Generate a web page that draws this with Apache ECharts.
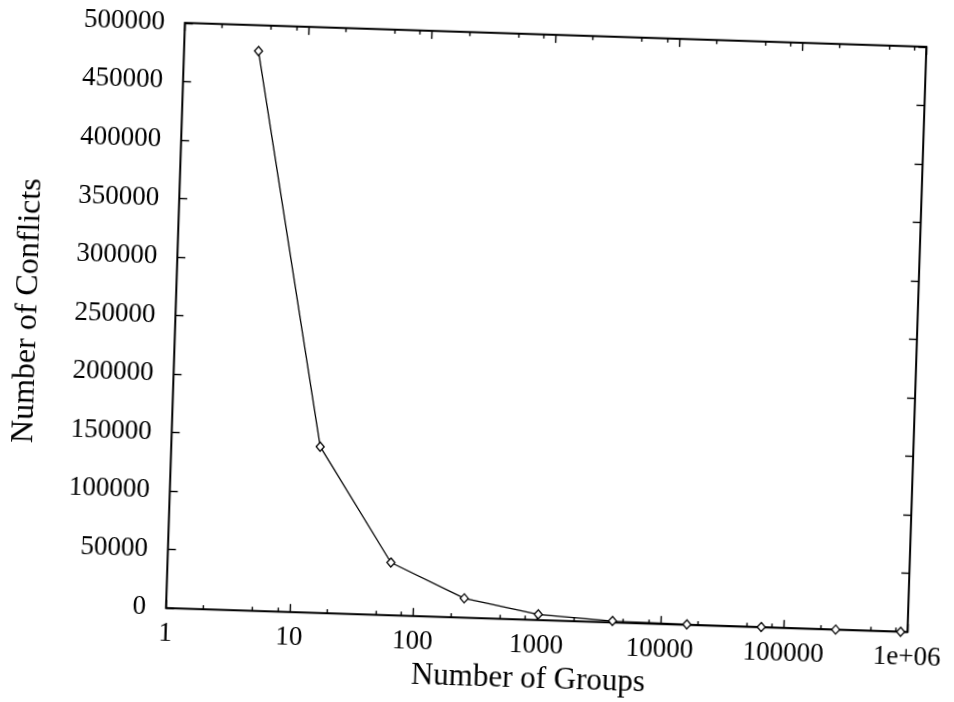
<!DOCTYPE html>
<html><head><meta charset="utf-8">
<script src="https://cdn.jsdelivr.net/npm/echarts@6/dist/echarts.min.js"></script>
<style>
html,body{margin:0;padding:0;background:#fff;overflow:hidden}
#chart{width:954px;height:702px;transform:rotate(1.85deg);transform-origin:548px 327.5px}
</style></head><body><div id="chart"></div>
<script>
// Data
const groups = [4, 16, 64, 256, 1024, 4096, 16384, 65536, 262144, 880000];
const conflicts = [478000, 142000, 45000, 16500, 4800, 1200, 400, 150, 60, 20];
const xTickValues = [1, 10, 100, 1000, 10000, 100000, 1000000];
const xTickLabels = ['1', '10', '100', '1000', '10000', '100000', '1e+06'];
const xMinorTickValues = [2, 5, 8, 20, 50, 80, 200, 500, 800, 2000, 5000, 8000, 20000, 50000, 80000, 200000, 500000, 800000];
const yTickValues = [0, 50000, 100000, 150000, 200000, 250000, 300000, 350000, 400000, 450000, 500000];
const xName = 'Number of Groups';
const yName = 'Number of Conflicts';

const FONT = 'Liberation Serif';
const INK = '#000';

function xAxisDef(pos, tickVals, len, showLabel, name) {
  return {
    type: 'log', logBase: 10, min: 1, max: 1000000, position: pos,
    axisLine: { show: false, onZero: false },
    splitLine: { show: false },
    axisTick: { show: true, inside: true, length: len, customValues: tickVals, lineStyle: { color: INK, width: 1.4 } },
    axisLabel: {
      show: showLabel, customValues: xTickValues, margin: 12,
      fontFamily: FONT, fontSize: 27, color: INK,
      formatter: v => { const i = xTickValues.findIndex(t => Math.abs(Math.log10(t) - Math.log10(v)) < 1e-6); return i >= 0 ? xTickLabels[i] : ''; }
    },
    name: name || '', nameLocation: 'middle', nameGap: 27,
    nameTextStyle: { fontFamily: FONT, fontSize: 31, color: INK, padding: [0, 14, 0, 0] }
  };
}
function yAxisDef(pos, showLabel, name) {
  return {
    type: 'value', min: yTickValues[0], max: yTickValues[yTickValues.length - 1], interval: 50000, position: pos,
    axisLine: { show: false, onZero: false },
    splitLine: { show: false },
    axisTick: { show: true, inside: true, length: 8, lineStyle: { color: INK, width: 1.4 } },
    axisLabel: { show: showLabel, margin: 20, fontFamily: FONT, fontSize: 27, color: INK, formatter: v => String(v) },
    name: name || '', nameLocation: 'middle', nameGap: 132, nameRotate: 90,
    nameTextStyle: { fontFamily: FONT, fontSize: 32, color: INK }
  };
}

const chart = echarts.init(document.getElementById('chart'));
chart.setOption({
  animation: false,
  backgroundColor: '#fff',
  grid: { left: 175.3, top: 34.8, width: 745.4, height: 585.4, show: true, borderColor: INK, borderWidth: 2, backgroundColor: 'transparent' },
  xAxis: [
    xAxisDef('bottom', xTickValues, 8, true, xName),
    xAxisDef('top', xTickValues, 8, false),
    xAxisDef('bottom', xMinorTickValues, 4, false),
    xAxisDef('top', xMinorTickValues, 4, false)
  ],
  yAxis: [
    yAxisDef('left', true, yName),
    yAxisDef('right', false)
  ],
  series: [{
    type: 'line', xAxisIndex: 0, yAxisIndex: 0,
    data: groups.map((g, i) => [g, conflicts[i]]),
    symbol: 'diamond', symbolSize: [8, 9], showAllSymbol: true,
    lineStyle: { color: INK, width: 1.3 },
    itemStyle: { color: '#fff', borderColor: INK, borderWidth: 1.3 }
  }]
});
</script></body></html>
